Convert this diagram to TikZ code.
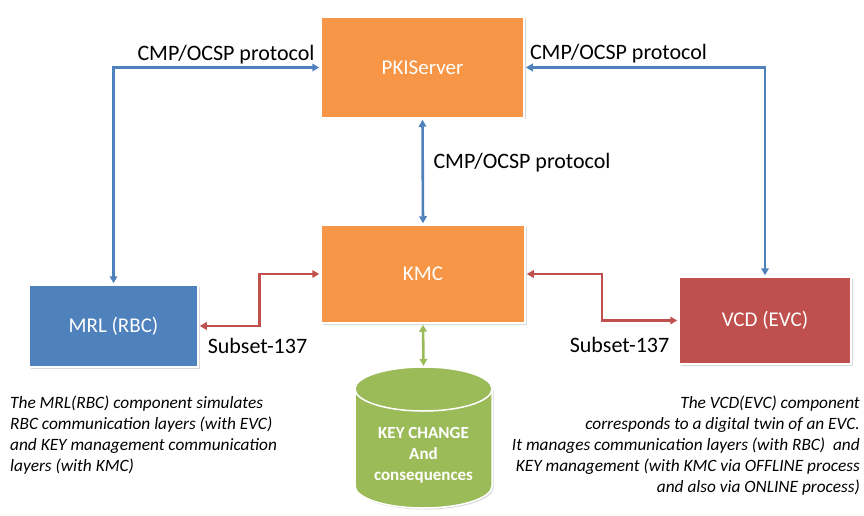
\documentclass[tikz,border=0pt]{standalone}
\usepackage{fontspec}
\setmainfont{Carlito}
\usepackage{tikz}
\usetikzlibrary{arrows.meta,calc,shadows}

\definecolor{pkiorange}{HTML}{F79646}
\definecolor{rbcblue}{HTML}{4F81BD}
\definecolor{evcred}{HTML}{C0504D}
\definecolor{keygreen}{HTML}{9BBB59}

\begin{document}
\begin{tikzpicture}[x=1pt,y=1pt,
        comp/.style={draw=white, line width=1.5pt, text=white,
            font=\fontsize{21}{25}\selectfont,
            drop shadow={shadow xshift=1.5pt, shadow yshift=-1.5pt, opacity=.3}},
        link/.style={line width=2.6pt,
            {Triangle[length=7pt,width=7.5pt]}-{Triangle[length=7pt,width=7.5pt]},
            shorten <=1pt, shorten >=1pt},
        lbl/.style={font=\fontsize{22}{25}\selectfont, inner sep=0pt},
        note/.style={font=\fontsize{17.3}{21}\selectfont\itshape, inner sep=0pt}]
    \useasboundingbox (0,0) rectangle (864,-516);

    \node[comp, fill=pkiorange, minimum width=203pt, minimum height=101pt] (pki) at (422.5,-67.5) {PKIServer};
    \node[comp, fill=pkiorange, minimum width=204pt, minimum height=98pt] (kmc) at (423,-274) {KMC};
    \node[comp, fill=rbcblue, minimum width=169pt, minimum height=82pt] (mrl) at (113.5,-326) {MRL (RBC)};
    \node[comp, fill=evcred, minimum width=172pt, minimum height=87pt] (vcd) at (765,-320.5) {VCD (EVC)};

    \path[draw=white, line width=1.5pt, fill=keygreen,
          drop shadow={shadow xshift=1.5pt, shadow yshift=-1.5pt, opacity=.3}]
        (355,-389) -- (355,-486)
        arc[start angle=180, end angle=360, x radius=68.5, y radius=22]
        -- (492,-389)
        arc[start angle=0, end angle=180, x radius=68.5, y radius=22] -- cycle;
    \draw[white, line width=1.5pt] (355,-389)
        arc[start angle=180, end angle=360, x radius=68.5, y radius=22];
    \coordinate (cyltop) at (423.5,-367);
    \node[text=white, align=center, font=\fontsize{17}{21}\selectfont\bfseries] (keych) at (423.5,-455)
        {KEY CHANGE\\And\\consequences};

    \draw[link, rbcblue] (pki.west) -| (mrl.north);
    \draw[link, rbcblue] (pki.east) -| (vcd.north);
    \draw[link, rbcblue] (pki.south) -- (kmc.north);
    \draw[link, evcred] (mrl.east) -| ($(mrl.east)!.5!(kmc.west)$) |- (kmc.west);
    \draw[link, evcred] (kmc.east) -| ($(kmc.east)!.5!(vcd.west)$) |- (vcd.west);
    \draw[link, keygreen] (kmc.south) -- (cyltop);

    \node[lbl, anchor=base] (cmpleft) at (226,-61) {CMP/OCSP protocol};
    \node[lbl, anchor=base] (cmpright) at (618.5,-60) {CMP/OCSP protocol};
    \node[lbl, anchor=base] (cmpmid) at (522,-168) {CMP/OCSP protocol};
    \node[lbl, anchor=base] (subleft) at (257.5,-353) {Subset-137};
    \node[lbl, anchor=base] (subright) at (619.5,-352) {Subset-137};

    \node[note, anchor=north west, align=left] (mrlnote) at (10,-396)
        {The MRL(RBC) component simulates\\
         RBC communication layers (with EVC)\\
         and KEY management communication\\
         layers (with KMC)};
    \node[note, anchor=north east, align=right] (vcdnote) at (860,-396)
        {The VCD(EVC) component\\
         corresponds to a digital twin of an EVC.\\
         It manages communication layers (with RBC)\ \ and\\
         KEY management (with KMC via OFFLINE process\\
         and also via ONLINE process)};
\end{tikzpicture}
\end{document}
